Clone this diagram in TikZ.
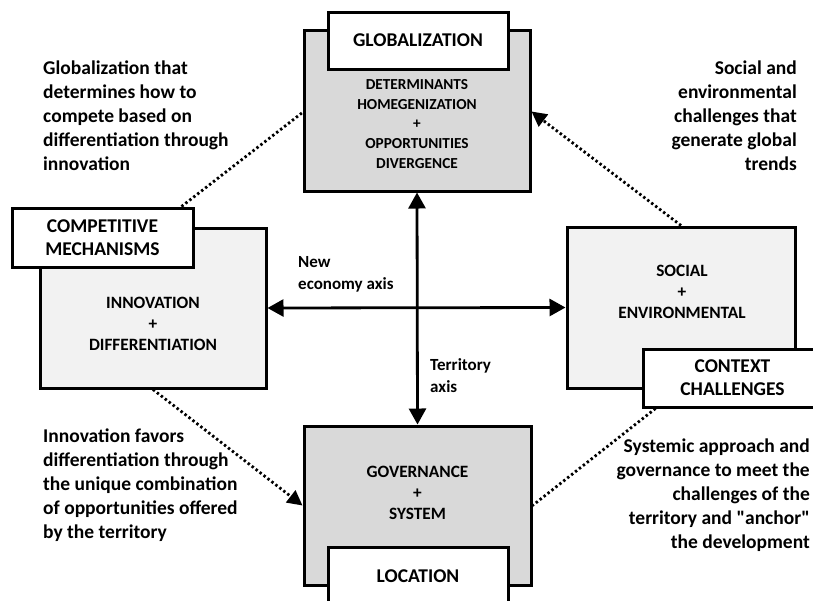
\documentclass[tikz,border=0pt]{standalone}
\usepackage{fontspec}
\setmainfont{Carlito}[Ligatures=TeXOff]
\usetikzlibrary{arrows.meta,shadows}
\definecolor{boxdark}{HTML}{D9D9D9}
\definecolor{boxlight}{HTML}{F2F2F2}
\begin{document}
\begin{tikzpicture}[x=1pt,y=-1pt,
  softshadow/.style={drop shadow={shadow xshift=1.5pt, shadow yshift=-1.5pt, fill=black, opacity=0.25}},
  panel/.style={draw=black, line width=3pt, inner sep=0pt, softshadow},
  titlebox/.style={draw=black, line width=3pt, fill=white, align=center, inner sep=0pt, softshadow,
    font=\bfseries\fontsize{19.5}{23}\selectfont},
  boxtext/.style={align=center, inner sep=0pt, font=\bfseries\fontsize{17.3}{21}\selectfont},
  note/.style={inner sep=0pt, font=\bfseries\fontsize{19.5}{23.8}\selectfont},
  axislabel/.style={inner sep=0pt, align=left, font=\bfseries\fontsize{17}{22}\selectfont},
  axisarrow/.style={line width=2.8pt, {Triangle[length=16pt,width=17pt]}-{Triangle[length=16pt,width=17pt]}},
  dots/.style={line width=2.8pt, dash pattern=on 2.4pt off 2.6pt},
  dotarrow/.style={dots, -{Triangle[length=15pt,width=15pt]}}
]
\useasboundingbox (0,0) rectangle (813,600);
\clip (0,0) rectangle (813,600);

% panels
\node[panel, fill=boxdark, minimum width=226pt, minimum height=161pt] (gtop) at (417,110.5) {};
\node[panel, fill=boxlight, minimum width=226pt, minimum height=160pt] (lbox) at (153,308) {};
\node[panel, fill=boxlight, minimum width=228pt, minimum height=161pt] (rbox) at (681,307.5) {};
\node[panel, fill=boxdark, minimum width=227pt, minimum height=159pt] (bbox) at (417.5,505.5) {};

% panel texts
\node[boxtext, font=\bfseries\fontsize{15.3}{19.7}\selectfont] (gtext) at (417,124) {DETERMINANTS\\HOMEGENIZATION\\+\\OPPORTUNITIES\\DIVERGENCE};
\node[boxtext] (ltext) at (153,324) {INNOVATION\\+\\DIFFERENTIATION};
\node[boxtext] (rtext) at (682,292) {SOCIAL\\+\\ENVIRONMENTAL};
\node[boxtext] (btext) at (417.5,493) {GOVERNANCE\\+\\SYSTEM};

% title boxes
\node[titlebox, minimum width=180pt, minimum height=57pt] (gtitle) at (418,40.5) {GLOBALIZATION};
\node[titlebox, minimum width=181pt, minimum height=59pt] (ctitle) at (102.5,237.5) {COMPETITIVE\\MECHANISMS};
\node[titlebox, minimum width=179pt, minimum height=58pt] (xtitle) at (732.5,378) {CONTEXT\\CHALLENGES};
\node[titlebox, minimum width=180pt, minimum height=59pt] (ltitle) at (418,576.5) {LOCATION};

% axes
\draw[axisarrow] (lbox.east) -- (rbox.west);
\draw[axisarrow] (gtop.south) -- (bbox.north);
\node[axislabel, anchor=north west] (newaxis) at (298,256) {New\\economy axis};
\node[axislabel, anchor=north west] (terraxis) at (430,358) {Territory\\axis};

% dotted links
\draw[dots] ([xshift=-13pt]ctitle.north east) -- ([yshift=-2pt]gtop.west);
\draw[dotarrow] (rbox.north) -- ([yshift=-1pt]gtop.east);
\draw[dotarrow] (lbox.south) -- (bbox.west);
\draw[dots] ([xshift=14pt]xtitle.south west) -- (bbox.east);

% notes
\node[note, anchor=north west, align=left] (n1) at (43,61) {Globalization that\\determines how to\\compete based on\\differentiation through\\innovation};
\node[note, anchor=north east, align=right] (n2) at (797,61) {Social and\\environmental\\challenges that\\generate global\\trends};
\node[note, anchor=north west, align=left] (n3) at (43,429) {Innovation favors\\differentiation through\\the unique combination\\of opportunities offered\\by the territory};
\node[note, anchor=north east, align=right] (n4) at (810,439) {Systemic approach and\\governance to meet the\\challenges of the\\territory and "anchor"\\the development};
\end{tikzpicture}
\end{document}
